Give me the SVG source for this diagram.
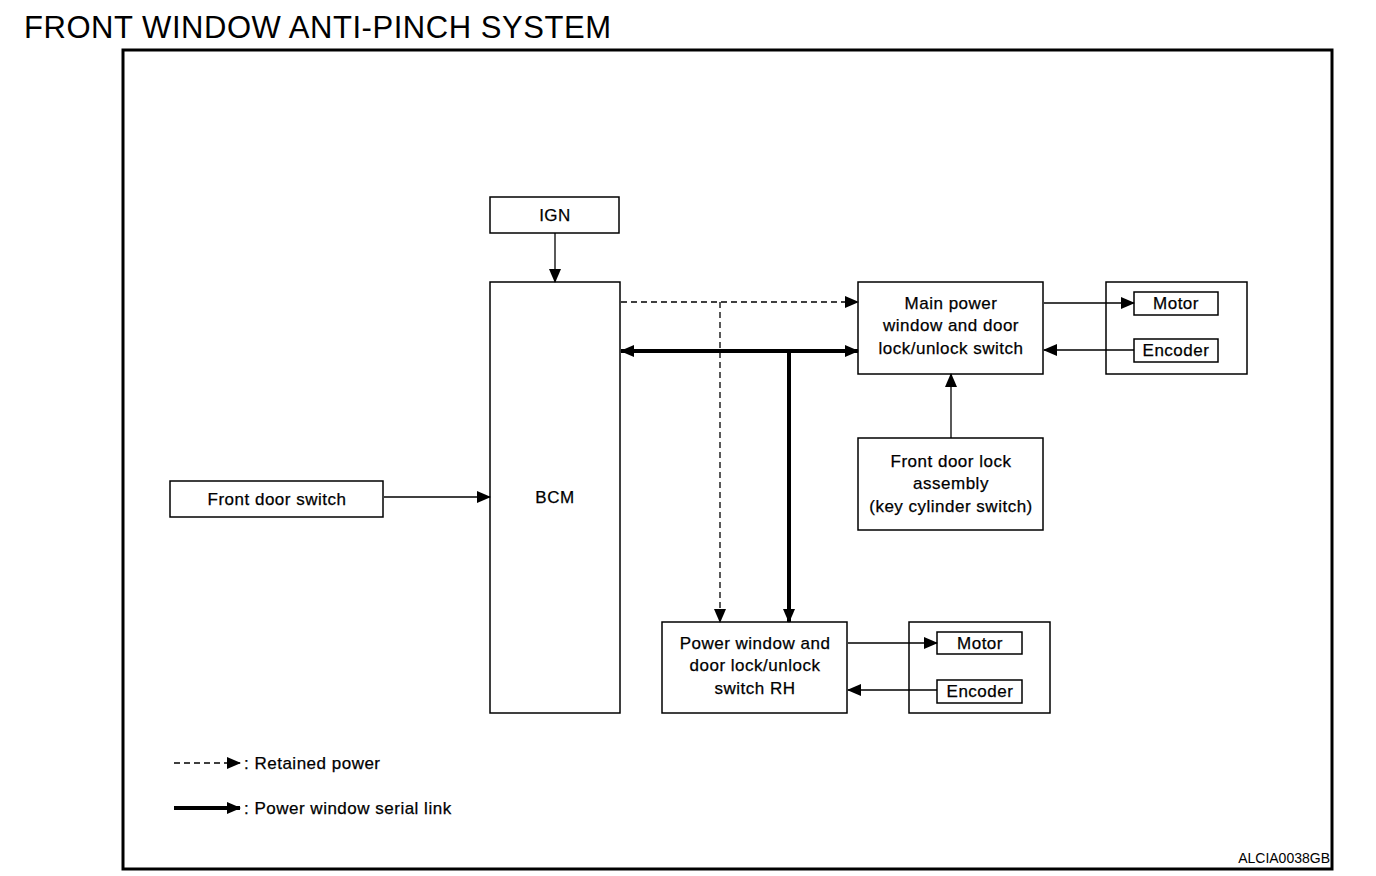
<svg xmlns="http://www.w3.org/2000/svg" width="1376" height="876" viewBox="0 0 1376 876">
<style>
.box{fill:#fff;stroke:#000;stroke-width:1.5}
.unit{fill:none;stroke:#000;stroke-width:1.5}
.lbl{font-family:"Liberation Sans",Arial,sans-serif;font-size:17px;letter-spacing:0.5px;text-anchor:middle;fill:#000;stroke:#000;stroke-width:0.25}
.leg{font-family:"Liberation Sans",Arial,sans-serif;font-size:17px;letter-spacing:0.5px;fill:#000;stroke:#000;stroke-width:0.25}
.thin{fill:none;stroke:#000;stroke-width:1.3}
.dash{fill:none;stroke:#000;stroke-width:1.3;stroke-dasharray:6 4}
.thick{fill:none;stroke:#000;stroke-width:4}
</style>
<defs>
<marker id="ah" markerUnits="userSpaceOnUse" markerWidth="14" markerHeight="12" refX="13" refY="6" orient="auto-start-reverse" viewBox="0 0 14 12">
<path d="M0,0 L14,6 L0,12 z" fill="#000"/>
</marker>
</defs>
<rect width="1376" height="876" fill="#fff"/>
<text x="24" y="38" font-family="'Liberation Sans',Arial,sans-serif" font-size="31" textLength="587" fill="#000">FRONT WINDOW ANTI-PINCH SYSTEM</text>
<rect x="123" y="50" width="1209" height="819" fill="none" stroke="#000" stroke-width="3"/>

<g id="ign">
<rect class="box" x="490" y="197" width="129" height="36"/>
<text class="lbl" x="555" y="221">IGN</text>
</g>
<g id="bcm">
<rect class="box" x="490" y="282" width="130" height="431"/>
<text class="lbl" x="555" y="503">BCM</text>
</g>
<g id="main-switch">
<rect class="box" x="858" y="282" width="185" height="92"/>
<text class="lbl" x="951" y="309">Main power</text>
<text class="lbl" x="951" y="331">window and door</text>
<text class="lbl" x="951" y="354">lock/unlock switch</text>
</g>
<g id="main-motor-unit">
<rect class="unit" x="1106" y="282" width="141" height="92"/>
<rect class="box" x="1134" y="292" width="84" height="23"/>
<text class="lbl" x="1176" y="309">Motor</text>
<rect class="box" x="1134" y="339" width="84" height="23"/>
<text class="lbl" x="1176" y="356">Encoder</text>
</g>
<g id="front-door-lock">
<rect class="box" x="858" y="438" width="185" height="92"/>
<text class="lbl" x="951" y="467">Front door lock</text>
<text class="lbl" x="951" y="489">assembly</text>
<text class="lbl" x="951" y="512">(key cylinder switch)</text>
</g>
<g id="front-door-switch">
<rect class="box" x="170" y="481" width="213" height="36"/>
<text class="lbl" x="277" y="505">Front door switch</text>
</g>
<g id="rh-switch">
<rect class="box" x="662" y="622" width="185" height="91"/>
<text class="lbl" x="755" y="649">Power window and</text>
<text class="lbl" x="755" y="671">door lock/unlock</text>
<text class="lbl" x="755" y="694">switch RH</text>
</g>
<g id="rh-motor-unit">
<rect class="unit" x="909" y="622" width="141" height="91"/>
<rect class="box" x="937" y="632" width="85" height="22"/>
<text class="lbl" x="980" y="649">Motor</text>
<rect class="box" x="937" y="680" width="85" height="23"/>
<text class="lbl" x="980" y="697">Encoder</text>
</g>

<g id="connectors">
<line class="thin" x1="555" y1="233" x2="555" y2="282" marker-end="url(#ah)"/>
<line class="dash" x1="621" y1="302" x2="858" y2="302" marker-end="url(#ah)"/>
<line class="dash" x1="720" y1="302" x2="720" y2="622" marker-end="url(#ah)"/>
<line class="thick" x1="621" y1="351" x2="858" y2="351" marker-start="url(#ah)" marker-end="url(#ah)"/>
<line class="thick" x1="789" y1="351" x2="789" y2="622" marker-end="url(#ah)"/>
<line class="thin" x1="1044" y1="303" x2="1134" y2="303" marker-end="url(#ah)"/>
<line class="thin" x1="1134" y1="350" x2="1044" y2="350" marker-end="url(#ah)"/>
<line class="thin" x1="951" y1="438" x2="951" y2="374" marker-end="url(#ah)"/>
<line class="thin" x1="384" y1="497" x2="490" y2="497" marker-end="url(#ah)"/>
<line class="thin" x1="848" y1="643" x2="937" y2="643" marker-end="url(#ah)"/>
<line class="thin" x1="937" y1="690" x2="848" y2="690" marker-end="url(#ah)"/>
<line class="dash" x1="174" y1="763" x2="240" y2="763" marker-end="url(#ah)"/>
<line class="thick" x1="174" y1="808" x2="240" y2="808" marker-end="url(#ah)"/>
</g>

<g id="legend">
<text class="leg" x="244" y="769">: Retained power</text>
<text class="leg" x="244" y="814">: Power window serial link</text>
</g>
<text x="1330" y="863" font-family="'Liberation Sans',Arial,sans-serif" font-size="14" text-anchor="end" fill="#000">ALCIA0038GB</text>
</svg>
